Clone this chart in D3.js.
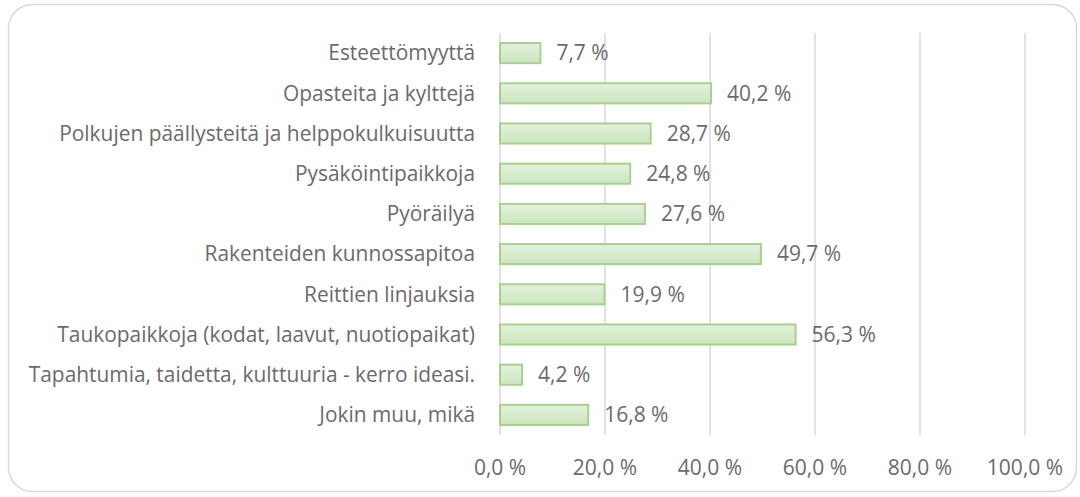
<!DOCTYPE html>
<html>
<head>
<meta charset="utf-8">
<script src="https://cdn.jsdelivr.net/npm/d3@7"></script>
<style>
  body { margin: 0; background: #fff; }
  text { font-family: "Open Sans", Lato, sans-serif; fill: #6b6b6b; }
</style>
</head>
<body>
<script>
// categories and values (percent)
var categories = ["Esteettömyyttä", "Opasteita ja kylttejä", "Polkujen päällysteitä ja helppokulkuisuutta",
                  "Pysäköintipaikkoja", "Pyöräilyä", "Rakenteiden kunnossapitoa ", "Reittien linjauksia",
                  "Taukopaikkoja (kodat, laavut, nuotiopaikat)", "Tapahtumia, taidetta, kulttuuria - kerro ideasi.",
                  "Jokin muu, mikä"];
var values = [7.7, 40.2, 28.7, 24.8, 27.6, 49.7, 19.9, 56.3, 4.2, 16.8];
var ticks = [0, 20, 40, 60, 80, 100];

var W = 1080, H = 497;
var margin = {top: 33, right: 55, bottom: 62, left: 500},
    width = W - margin.left - margin.right,
    height = H - margin.top - margin.bottom;

var fmt = function (v) { return v.toFixed(1).replace(".", ",") + " %"; };

var svg = d3.select("body").append("svg")
    .attr("width", W).attr("height", H);

// outer rounded frame
svg.append("rect")
    .attr("x", 8.5).attr("y", 4.5)
    .attr("width", 1068).attr("height", 487)
    .attr("rx", 24).attr("ry", 24)
    .attr("fill", "#fff").attr("stroke", "#d9d9d9").attr("stroke-width", 1.5);

var defs = svg.append("defs");
var grad = defs.append("linearGradient").attr("id", "barFill")
    .attr("x1", 0).attr("y1", 0).attr("x2", 0).attr("y2", 1);
grad.append("stop").attr("offset", "0%").attr("stop-color", "#e4f1dc");
grad.append("stop").attr("offset", "100%").attr("stop-color", "#cce6be");

var g = svg.append("g").attr("transform", "translate(" + margin.left + "," + margin.top + ")");

var x = d3.scaleLinear().domain([0, 100]).range([0, width]);
var y = d3.scaleBand().domain(categories).range([0, height]).paddingInner(0.5).paddingOuter(0.25);

// gridlines
g.selectAll(".grid").data(ticks).enter().append("line")
    .attr("x1", function (d) { return x(d); })
    .attr("x2", function (d) { return x(d); })
    .attr("y1", 0).attr("y2", height)
    .attr("stroke", "#d9d9d9").attr("stroke-width", 1.5);

// x tick labels
g.selectAll(".tick-label").data(ticks).enter().append("text")
    .attr("x", function (d) { return x(d); })
    .attr("y", height + 33)
    .attr("text-anchor", "middle")
    .attr("dy", "0.35em")
    .style("font-size", "21px")
    .text(fmt);

// bars
g.selectAll(".bar").data(values).enter().append("rect")
    .attr("x", x(0))
    .attr("y", function (d, i) { return y(categories[i]); })
    .attr("width", function (d) { return x(d) - x(0); })
    .attr("height", y.bandwidth())
    .attr("fill", "url(#barFill)")
    .attr("stroke", "#a9d18e").attr("stroke-width", 2);

// value labels
g.selectAll(".val").data(values).enter().append("text")
    .attr("x", function (d) { return x(d) + 16; })
    .attr("y", function (d, i) { return y(categories[i]) + y.bandwidth() / 2; })
    .attr("dy", "0.35em")
    .style("font-size", "21px")
    .text(fmt);

// category labels
g.selectAll(".cat").data(categories).enter().append("text")
    .attr("x", -25)
    .attr("y", function (d) { return y(d) + y.bandwidth() / 2; })
    .attr("dy", "0.35em")
    .attr("text-anchor", "end")
    .style("font-size", "20.9px")
    .text(function (d) { return d; });
</script>
</body>
</html>
